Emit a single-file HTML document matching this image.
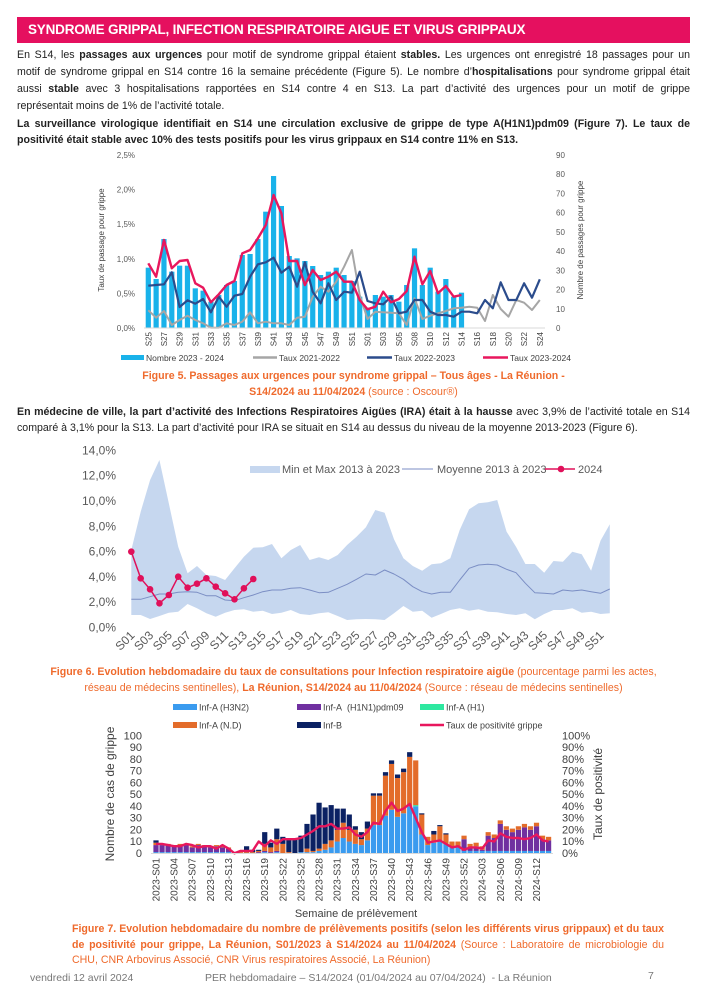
<!DOCTYPE html>
<html><head><meta charset="utf-8">
<style>
body{margin:0;background:#fff;width:707px;height:1000px;overflow:hidden;position:relative;font-family:"Liberation Sans",Arial,sans-serif;}
.hdr{position:absolute;left:17px;top:17px;width:673px;height:26px;background:#e5105f;color:#fff;font-weight:bold;font-size:13.5px;line-height:26px;padding-left:11px;box-sizing:border-box;letter-spacing:-0.2px}
.t{position:absolute;left:17px;width:673px;font-size:10.6px;color:#222;line-height:17px}
.j{text-align:justify;text-align-last:justify;white-space:nowrap;overflow:hidden}
.cap{position:absolute;color:#ef6a2c;font-size:10.6px;line-height:16px}
svg{position:absolute;left:0;top:0}
</style></head><body>
<div class="hdr">SYNDROME GRIPPAL, INFECTION RESPIRATOIRE AIGUE ET VIRUS GRIPPAUX</div>
<div class="t" style="top:47px">
<div class="j">En S14, les <b>passages aux urgences</b> pour motif de syndrome grippal étaient <b>stables.</b> Les urgences ont enregistré 18 passages pour un</div>
<div class="j">motif de syndrome grippal en S14 contre 16 la semaine précédente (Figure 5). Le nombre d’<b>hospitalisations</b> pour syndrome grippal était</div>
<div class="j">aussi <b>stable</b> avec 3 hospitalisations rapportées en S14 contre 4 en S13. La part d’activité des urgences pour un motif de grippe</div>
<div>représentait moins de 1% de l’activité totale.</div>
</div>
<div class="t" style="top:116px;font-weight:bold;line-height:16px">
<div class="j">La surveillance virologique identifiait en S14 une circulation exclusive de grippe de type A(H1N1)pdm09 (Figure 7). Le taux de</div>
<div>positivité était stable avec 10% des tests positifs pour les virus grippaux en S14 contre 11% en S13.</div>
</div>
<div class="cap" style="left:0;width:707px;text-align:center;top:368px;font-weight:bold">Figure 5. Passages aux urgences pour syndrome grippal – Tous âges - La Réunion -<br>S14/2024 au 11/04/2024 <span style="font-weight:normal">(source : Oscour®)</span></div>
<div class="t" style="top:404px;line-height:16px">
<div class="j"><b>En médecine de ville, la part d’activité des Infections Respiratoires Aigües (IRA) était à la hausse</b> avec 3,9% de l’activité totale en S14</div>
<div>comparé à 3,1% pour la S13. La part d’activité pour IRA se situait en S14 au dessus du niveau de la moyenne 2013-2023 (Figure 6).</div>
</div>
<div class="cap" style="left:0;width:707px;text-align:center;top:664px"><b>Figure 6. Evolution hebdomadaire du taux de consultations pour Infection respiratoire aigüe</b> (pourcentage parmi les actes,<br>réseau de médecins sentinelles), <b>La Réunion, S14/2024 au 11/04/2024</b> (Source : réseau de médecins sentinelles)</div>
<div class="cap" style="left:72px;width:592px;top:922px;line-height:15.5px">
<div class="j"><b>Figure 7. Evolution hebdomadaire du nombre de prélèvements positifs (selon les différents virus grippaux) et du taux</b></div>
<div class="j"><b>de positivité pour grippe, La Réunion, S01/2023 à S14/2024 au 11/04/2024</b> (Source : Laboratoire de microbiologie du</div>
<div>CHU, CNR Arbovirus Associé, CNR Virus respiratoires Associé, La Réunion)</div>
</div>
<div style="position:absolute;top:972px;left:30px;font-size:10.5px;color:#777">vendredi 12 avril 2024</div>
<div style="position:absolute;top:972px;left:205px;font-size:10.5px;color:#777">PER hebdomadaire – S14/2024 (01/04/2024 au 07/04/2024)&nbsp; - La Réunion</div>
<div style="position:absolute;top:970px;left:648px;font-size:10.5px;color:#777">7</div>
<svg id="s" width="707" height="1000" xmlns="http://www.w3.org/2000/svg" font-family="Liberation Sans, Arial, sans-serif"></svg>
<script>
var o='';
function T(x,y,s,sz,c,anc,extra){o+='<text x="'+x+'" y="'+y+'" font-size="'+sz+'" fill="'+c+'" text-anchor="'+(anc||'start')+'" '+(extra||'')+'>'+s+'</text>';}
function P(pts,c,w){o+='<polyline points="'+pts.map(p=>p[0].toFixed(1)+','+p[1].toFixed(1)).join(' ')+'" fill="none" stroke="'+c+'" stroke-width="'+w+'" stroke-linejoin="round"/>';}
// ---- Chart 1
var X1=i=>148.3+7.83*i, Y1=y=>145+y/3;
var bars=[368,402,282,380,362,362,430,437,470,450,420,408,330,327,282,200,93,183,333,340,348,363,390,380,368,390,408,455,488,450,455,450,470,420,310,420,368,440,402,455,443];
bars.forEach((y,i)=>{o+='<rect x="'+(X1(i)-2.6)+'" y="'+Y1(y)+'" width="5.2" height="'+(328-Y1(y))+'" fill="#19b2ea"/>';});
var gray=[496,518,498,540,525,512,525,535,548,548,535,540,530,502,535,530,535,535,540,518,515,455,425,440,410,365,315,450,522,500,502,503,505,540,460,522,512,505,498,490,488,485,488,528,450,492,515,465,473,495,465];
var navy=[422,420,418,382,486,466,476,462,502,455,485,452,447,395,358,352,338,383,365,425,352,440,475,415,465,440,443,380,468,475,478,455,505,500,465,465,500,510,510,515,500,500,505,465,490,412,465,465,415,458,403];
var pink=[355,395,285,370,348,345,415,428,472,448,420,408,325,315,280,240,150,205,348,348,420,375,405,395,380,410,410,465,493,485,440,472,462,438,335,418,378,445,423,455,450];
P(gray.map((y,i)=>[X1(i),Y1(y)]),'#a6a6a6',2);
P(navy.map((y,i)=>[X1(i),Y1(y)]),'#2b4c8c',2.2);
P(pink.map((y,i)=>[X1(i),Y1(y)]),'#e8175d',2.4);
o+='<line x1="144" y1="328" x2="545" y2="328" stroke="#d9d9d9"/>';
['0,0%','0,5%','1,0%','1,5%','2,0%','2,5%'].forEach((s,k)=>T(135,331-k*34.6,s,8,'#595959','end'));
for(var k=0;k<=9;k++)T(556,331-k*19.22,k*10,8,'#595959','start');
T(0,0,'Taux de passage pour grippe',8,'#404040','middle','transform="translate(104,240) rotate(-90)"');
T(0,0,'Nombre de passages pour grippe',8,'#404040','middle','transform="translate(583,240) rotate(-90)"');
var lab1=[];for(var w=25;w<=51;w+=2)lab1.push('S'+w);lab1.push('S01','S03','S05');for(w=8;w<=24;w+=2)lab1.push('S'+(w<10?'0'+w:w));
lab1.forEach((s,k)=>T(0,0,s,8,'#404040','end','transform="translate('+(X1(2*k)+3)+',332) rotate(-90)"'));
o+='<rect x="121" y="355" width="23" height="5" fill="#19b2ea"/>';T(146,361,'Nombre 2023 - 2024',8.5,'#404040');
o+='<line x1="253" y1="357.5" x2="277" y2="357.5" stroke="#a6a6a6" stroke-width="2.5"/>';T(279,361,'Taux 2021-2022',8.5,'#404040');
o+='<line x1="367" y1="357.5" x2="392" y2="357.5" stroke="#2b4c8c" stroke-width="2.5"/>';T(394,361,'Taux 2022-2023',8.5,'#404040');
o+='<line x1="483" y1="357.5" x2="508" y2="357.5" stroke="#e8175d" stroke-width="2.5"/>';T(510,361,'Taux 2023-2024',8.5,'#404040');
// ---- Chart 2
var SX=2.885;
var X2=i=>80+(148+i*27.07)/SX, Y2=y=>440+y/3;
var mx=[330,215,120,60,190,320,400,378,405,408,420,385,350,323,322,312,355,330,315,360,352,360,345,315,290,262,210,218,298,355,378,392,373,370,355,270,208,190,187,180,275,320,372,372,398,363,365,335,343,392,302,253];
var mn=[525,525,537,528,518,515,492,505,520,530,518,510,508,515,512,522,518,510,522,525,520,517,528,540,538,537,538,540,520,498,515,512,533,522,510,505,512,508,515,517,522,525,520,538,522,510,510,505,518,515,522,520];
var me=[478,478,470,462,462,457,455,457,467,467,480,482,473,465,455,450,450,445,443,450,458,457,445,433,418,402,405,390,402,418,440,455,462,457,457,420,385,375,373,375,388,398,430,458,460,462,450,453,450,455,460,447];
var band=mx.map((y,i)=>X2(i).toFixed(1)+','+Y2(y).toFixed(1)).concat(mn.map((y,i)=>[i,y]).reverse().map(a=>X2(a[0]).toFixed(1)+','+Y2(a[1]).toFixed(1)));
o+='<polygon points="'+band.join(' ')+'" fill="#c6d7ef"/>';
P(me.map((y,i)=>[X2(i),Y2(y)]),'#7b8ec4',1);
var p24=[335,415,448,490,465,410,443,431,415,440,460,478,445,417];
P(p24.map((y,i)=>[X2(i),Y2(y)]),'#e0105a',1.5);
p24.forEach((y,i)=>{o+='<circle cx="'+X2(i)+'" cy="'+Y2(y)+'" r="3.3" fill="#e0105a"/>';});
for(k=0;k<=7;k++)T(116,631.5-k*25.3,(2*k)+',0%',12,'#595959','end');
for(k=0;k<26;k++){var n=2*k+1;T(0,0,'S'+(n<10?'0'+n:n),12,'#595959','end','transform="translate('+(X2(2*k)+4)+',636) rotate(-45)"');}
o+='<rect x="250" y="466" width="30" height="7" fill="#c6d7ef"/>';T(282,473,'Min et Max 2013 à 2023',11,'#595959');
o+='<line x1="402" y1="469" x2="433" y2="469" stroke="#7b8ec4"/>';T(437,473,'Moyenne 2013 à 2023',11,'#595959');
o+='<line x1="545" y1="469" x2="575" y2="469" stroke="#e0105a" stroke-width="1.5"/><circle cx="561" cy="469" r="3.3" fill="#e0105a"/>';T(578,473,'2024',11,'#595959');
// ---- Chart 3
var X3=i=>156+6.04*i, Y3=v=>853.3-v*1.176;
var tot=[11,8,8,7,8,8,6,8,7,6,7,6,5,0,1,6,3,3,18,9,21,14,12,12,15,25,33,43,39,41,38,38,33,23,18,27,51,51,69,79,67,72,86,79,34,14,19,24,17,10,10,3,15,8,9,6,18,16,28,23,21,23,25,23,26,15,14];
tot.splice(51,1);
var comp=[];
for(var i=0;i<66;i++){var t=tot[i],c;
 if(i<13)c=[1,t-2,0,1,0];
 else if(i<17)c=[0,0,0,1,t-1];
 else if(i<25)c=[0,1,0,Math.round(t*0.4),0];
 else if(i<36)c=[Math.round(t*[0.04,0.03,0.05,0.08,0.12,0.26,0.34,0.3,0.35,0.39,0.4][i-25]),0,0,Math.round(t*[0.1,0.03,0.05,0.13,0.15,0.26,0.34,0.3,0.52,0.28,0.37][i-25]),0];
 else if(i<51)c=[Math.round(t*0.47),0,0,Math.round(t*0.49),0];
 else c=[2,Math.max(0,t-5),0,3,0];
 var s=c[0]+c[1]+c[2]+c[3];c[4]=Math.max(0,t-s);comp.push(c);}
comp[0]=[1,6,0,2,2];comp[18]=[1,1,0,6,10];comp[20]=[1,1,0,10,9];comp[21]=[0,0,0,8,6];comp[22]=[0,0,0,1,11];comp[23]=[0,0,0,0,12];comp[24]=[1,0,0,0,14];
comp[43]=[40,0,1,38,0];comp[46]=[9,0,0,7,3];
var cols=['#3a9bef','#7030a0','#2ee8a0','#e36c2a','#0b2163'];
comp.forEach((c,i)=>{var b=0;c.forEach((v,k)=>{if(v>0){o+='<rect x="'+(X3(i)-2.6)+'" y="'+Y3(b+v)+'" width="5.2" height="'+(v*1.176)+'" fill="'+cols[k]+'"/>';}b+=v;});});
var rate=[8,8,7,6,6,8,7,5,6,6,4,7,4,0,2,2,2,10,6,11,8,12,12,12,13,16,19,23,23,25,21,21,22,16,14,18,26,25,36,43,36,38,42,30,18,9,10,11,8,5,6,3,5,5,4,11,10,17,14,13,13,12,13,16,11,10];
P(rate.map((v,i)=>[X3(i),Y3(v)]),'#e8175d',2.4);
o+='<line x1="151" y1="853.5" x2="553" y2="853.5" stroke="#d9d9d9"/>';
for(k=0;k<=10;k++){T(142,857-k*11.76,k*10,11,'#404040','end');T(562,857-k*11.76,(k*10)+'%',11,'#404040','start');}
T(0,0,'Nombre de cas de grippe',12,'#404040','middle','transform="translate(114,794) rotate(-90)"');
T(0,0,'Taux de positivité',12,'#404040','middle','transform="translate(602,794) rotate(-90)"');
var lab3=[];for(w=1;w<=52;w+=3)lab3.push('2023-S'+(w<10?'0'+w:w));['03','06','09','12'].forEach(s=>lab3.push('2024-S'+s));
lab3.forEach((s,k)=>{var idx=k<18?3*k:52+[2,5,8,11][k-18];T(0,0,s,10,'#404040','end','transform="translate('+(X3(idx)+3.5)+',858) rotate(-90)"');});
T(356,917,'Semaine de prélèvement',11,'#404040','middle');
var lg=[[173,704,'#3a9bef','Inf-A (H3N2)'],[297,704,'#7030a0','Inf-A&#160;&#160;(H1N1)pdm09'],[420,704,'#2ee8a0','Inf-A (H1)'],[173,722,'#e36c2a','Inf-A (N.D)'],[297,722,'#0b2163','Inf-B']];
lg.forEach(a=>{o+='<rect x="'+a[0]+'" y="'+a[1]+'" width="24" height="6" fill="'+a[2]+'"/>';T(a[0]+26,a[1]+6.5,a[3],9,'#404040');});
o+='<line x1="420" y1="725" x2="444" y2="725" stroke="#e8175d" stroke-width="2.4"/>';T(446,728.5,'Taux de positivité grippe',9,'#404040');
document.getElementById('s').innerHTML=o;
</script>
</body></html>
